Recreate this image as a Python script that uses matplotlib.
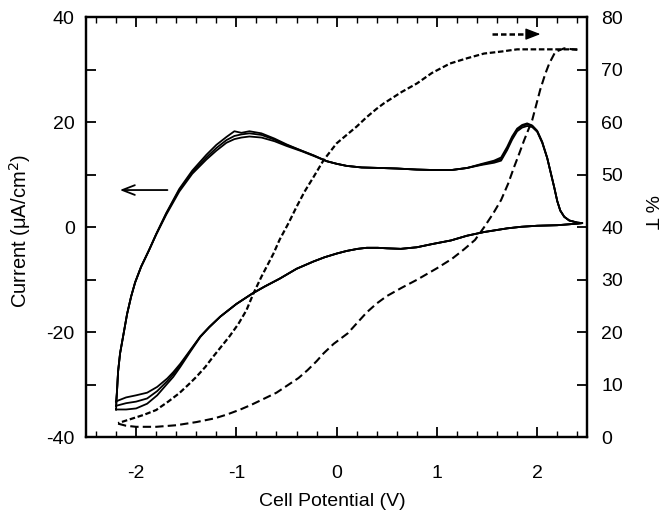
import matplotlib.pyplot as plt
from matplotlib.ticker import MultipleLocator
import numpy as np

plt.rcParams['font.family'] = ['Liberation Sans', 'DejaVu Sans']
plt.rcParams['axes.unicode_minus'] = False

# %%
# Cyclic voltammogram, three cycles (current, uA/cm2)
# potential path: forward sweep -2.2 -> 2.45, then back to -2.2
pot_fwd = [-2.20, -2.19, -2.18, -2.16, -2.13, -2.09, -2.05, -2.01, -1.95, -1.87,
           -1.80, -1.70, -1.57, -1.44, -1.30, -1.20, -1.10, -1.02, -0.95, -0.87,
           -0.75, -0.62, -0.50, -0.35, -0.23, -0.10, 0.00, 0.10, 0.25, 0.44,
           0.60, 0.80, 1.00, 1.14, 1.30, 1.45, 1.57, 1.64, 1.70, 1.75,
           1.80, 1.85, 1.90, 1.95, 2.00, 2.05, 2.10, 2.14, 2.17, 2.20,
           2.23, 2.27, 2.32, 2.40, 2.45]
pot_rev = [2.40, 2.20, 2.00, 1.84, 1.70, 1.47, 1.30, 1.14, 0.95, 0.80,
           0.64, 0.50, 0.41, 0.30, 0.21, 0.10, 0.00, -0.12, -0.23, -0.40,
           -0.57, -0.72, -0.84, -1.00, -1.16, -1.27, -1.36, -1.46, -1.56, -1.63,
           -1.69, -1.79, -1.89, -2.00, -2.10, -2.18, -2.20]

cur_fwd_1 = [-33.2, -31.0, -27.5, -24.0, -20.8, -16.5, -13.2, -10.5, -7.5, -4.3,
             -1.3, 2.7, 7.3, 10.8, 13.8, 15.7, 17.2, 18.3, 18.0, 18.3,
             17.9, 16.9, 15.8, 14.6, 13.7, 12.6, 12.1, 11.7, 11.4, 11.3,
             11.2, 11.0, 10.9, 10.9, 11.3, 12.1, 12.7, 13.3, 15.3, 17.3,
             18.8, 19.5, 19.8, 19.4, 18.4, 16.3, 13.2, 10.0, 7.6, 5.0,
             3.2, 2.0, 1.3, 0.9, 0.8]
cur_fwd_2 = [-34.0, -31.0, -27.5, -24.0, -20.8, -16.5, -13.2, -10.5, -7.5, -4.3,
             -1.3, 2.6, 7.1, 10.5, 13.3, 15.1, 16.6, 17.4, 17.7, 17.9,
             17.6, 16.7, 15.7, 14.6, 13.7, 12.6, 12.1, 11.7, 11.4, 11.3,
             11.2, 11.0, 10.9, 10.9, 11.3, 12.0, 12.5, 13.0, 15.0, 17.0,
             18.6, 19.3, 19.6, 19.3, 18.3, 16.2, 13.2, 10.0, 7.6, 5.0,
             3.2, 2.0, 1.3, 0.9, 0.8]
cur_fwd_3 = [-34.7, -31.0, -27.5, -24.0, -20.8, -16.5, -13.2, -10.5, -7.5, -4.3,
             -1.4, 2.4, 6.8, 10.2, 12.9, 14.6, 16.1, 16.8, 17.1, 17.3,
             17.1, 16.4, 15.5, 14.5, 13.6, 12.6, 12.1, 11.7, 11.4, 11.3,
             11.2, 11.0, 10.9, 10.9, 11.3, 11.9, 12.3, 12.7, 14.7, 16.7,
             18.3, 19.0, 19.3, 19.1, 18.2, 16.1, 13.2, 10.0, 7.6, 5.0,
             3.2, 2.0, 1.3, 0.9, 0.8]

cur_rev_1 = [0.7, 0.4, 0.3, 0.1, -0.2, -0.9, -1.6, -2.5, -3.2, -3.8,
             -4.1, -4.0, -3.9, -3.9, -4.1, -4.5, -5.0, -5.7, -6.5, -7.9,
             -9.8, -11.3, -12.6, -14.6, -17.0, -19.0, -20.8, -23.4, -26.0, -27.6,
             -28.8, -30.4, -31.5, -32.0, -32.4, -33.0, -33.2]
cur_rev_2 = [0.7, 0.4, 0.3, 0.1, -0.2, -0.9, -1.6, -2.5, -3.2, -3.8,
             -4.1, -4.0, -3.9, -3.9, -4.1, -4.5, -5.0, -5.7, -6.5, -7.9,
             -9.8, -11.3, -12.6, -14.6, -17.0, -19.0, -20.8, -23.5, -26.3, -28.0,
             -29.3, -31.2, -32.6, -33.2, -33.5, -33.9, -34.0]
cur_rev_3 = [0.7, 0.4, 0.3, 0.1, -0.2, -0.9, -1.6, -2.5, -3.2, -3.8,
             -4.1, -4.0, -3.9, -3.9, -4.1, -4.5, -5.0, -5.7, -6.5, -7.9,
             -9.8, -11.3, -12.6, -14.6, -17.0, -19.0, -20.9, -23.7, -26.6, -28.5,
             -29.8, -32.0, -33.6, -34.5, -34.7, -34.7, -34.7]

# %%
# Transmittance (%T), right axis
# forward sweep (coloured -> bleached)
t_fwd_pot = [-2.18, -2.10, -2.00, -1.80, -1.60, -1.40, -1.22, -1.10, -0.96, -0.85,
             -0.73, -0.60, -0.49, -0.38, -0.29, -0.20, -0.13, -0.03, 0.11, 0.20,
             0.30, 0.40, 0.50, 0.65, 0.80, 1.00, 1.15, 1.27, 1.38, 1.47,
             1.56, 1.64, 1.71, 1.77, 1.82, 1.87, 1.95, 2.03, 2.08, 2.12,
             2.18, 2.27, 2.40]
t_fwd = [2.6, 2.2, 2.0, 2.0, 2.3, 2.9, 3.6, 4.3, 5.3, 6.2,
         7.3, 8.5, 9.9, 11.3, 12.8, 14.5, 16.0, 17.8, 19.8, 21.7,
         23.8, 25.5, 26.9, 28.5, 30.0, 32.2, 34.0, 35.8, 37.6, 40.0,
         42.6, 45.2, 48.3, 51.5, 54.0, 56.6, 60.4, 66.2, 69.2, 71.2,
         73.4, 74.1, 73.8]
# reverse sweep (bleached -> coloured)
t_rev_pot = [2.40, 2.20, 2.00, 1.80, 1.65, 1.47, 1.30, 1.13, 0.95, 0.80,
             0.65, 0.47, 0.40, 0.30, 0.20, 0.10, 0.00, -0.13, -0.23, -0.32,
             -0.40, -0.48, -0.57, -0.63, -0.75, -0.83, -0.90, -0.98, -1.07, -1.15,
             -1.23, -1.31, -1.40, -1.48, -1.57, -1.68, -1.80, -1.92, -2.05, -2.18]
t_rev = [73.9, 73.9, 73.9, 73.9, 73.5, 73.1, 72.2, 71.2, 69.4, 67.4,
         65.8, 63.6, 62.6, 61.0, 59.2, 57.6, 56.0, 52.8, 49.6, 46.8,
         43.9, 40.8, 37.6, 35.0, 30.6, 27.4, 24.2, 21.6, 19.2, 17.3,
         15.4, 13.4, 11.5, 10.0, 8.4, 6.8, 5.2, 4.3, 3.5, 2.7]

# %%
fig, ax = plt.subplots(figsize=(6.65, 5.14), dpi=100)
fig.subplots_adjust(left=0.1293, right=0.8832, bottom=0.1492, top=0.9663)
ax2 = ax.twinx()

for cf, cr in [(cur_fwd_1, cur_rev_1), (cur_fwd_2, cur_rev_2), (cur_fwd_3, cur_rev_3)]:
    ax.plot(pot_fwd + pot_rev, cf + cr, color='black', lw=1.3)

ax2.plot(t_fwd_pot, t_fwd, color='black', lw=1.5, ls=(0, (4, 2)))
ax2.plot(t_rev_pot, t_rev, color='black', lw=1.6, ls=(0, (2.5, 1.2)))

# axis direction arrows
ax.annotate('', xy=(-2.19, 7.1), xytext=(-1.66, 7.1),
            arrowprops=dict(arrowstyle='->,head_length=0.9,head_width=0.35',
                            color='black', lw=1.3))
ax2.plot([1.55, 1.95], [76.8, 76.8], color='black', lw=1.8, ls=(0, (2.2, 1.2)))
ax2.annotate('', xy=(2.06, 76.8), xytext=(1.92, 76.8),
             arrowprops=dict(arrowstyle='-|>,head_length=0.9,head_width=0.35',
                             color='black', lw=1.0))

# limits / ticks
ax.set_xlim(-2.5, 2.5)
ax.set_ylim(-40, 40)
ax2.set_ylim(0, 80)
ax.xaxis.set_major_locator(MultipleLocator(1))
ax.xaxis.set_minor_locator(MultipleLocator(0.2))
ax.yaxis.set_major_locator(MultipleLocator(20))
ax.yaxis.set_minor_locator(MultipleLocator(10))
ax2.yaxis.set_major_locator(MultipleLocator(10))

ax.tick_params(axis='x', which='both', direction='in', top=True, labelsize=14, pad=20)
ax.tick_params(axis='x', which='major', length=7, width=1.3)
ax.tick_params(axis='x', which='minor', length=4, width=1.0)
ax.tick_params(axis='y', which='both', direction='in', right=False,
               length=7, width=1.3, labelsize=14, pad=8)
ax2.tick_params(axis='y', which='both', direction='in', length=7, width=1.3,
                labelsize=14, pad=10)

for a in (ax, ax2):
    for s in a.spines.values():
        s.set_linewidth(1.6)

ax.set_xlabel('Cell Potential (V)', fontsize=14)
ax.set_ylabel('Current (\u03bcA/cm$^2$)', fontsize=14.5)
ax2.set_ylabel('% T', fontsize=14, rotation=270)
ax.xaxis.set_label_coords(0.492, -0.133)
ax.yaxis.set_label_coords(-0.105, 0.491)
ax2.yaxis.set_label_coords(1.141, 0.536)

fig.savefig('out.png', dpi=100)
